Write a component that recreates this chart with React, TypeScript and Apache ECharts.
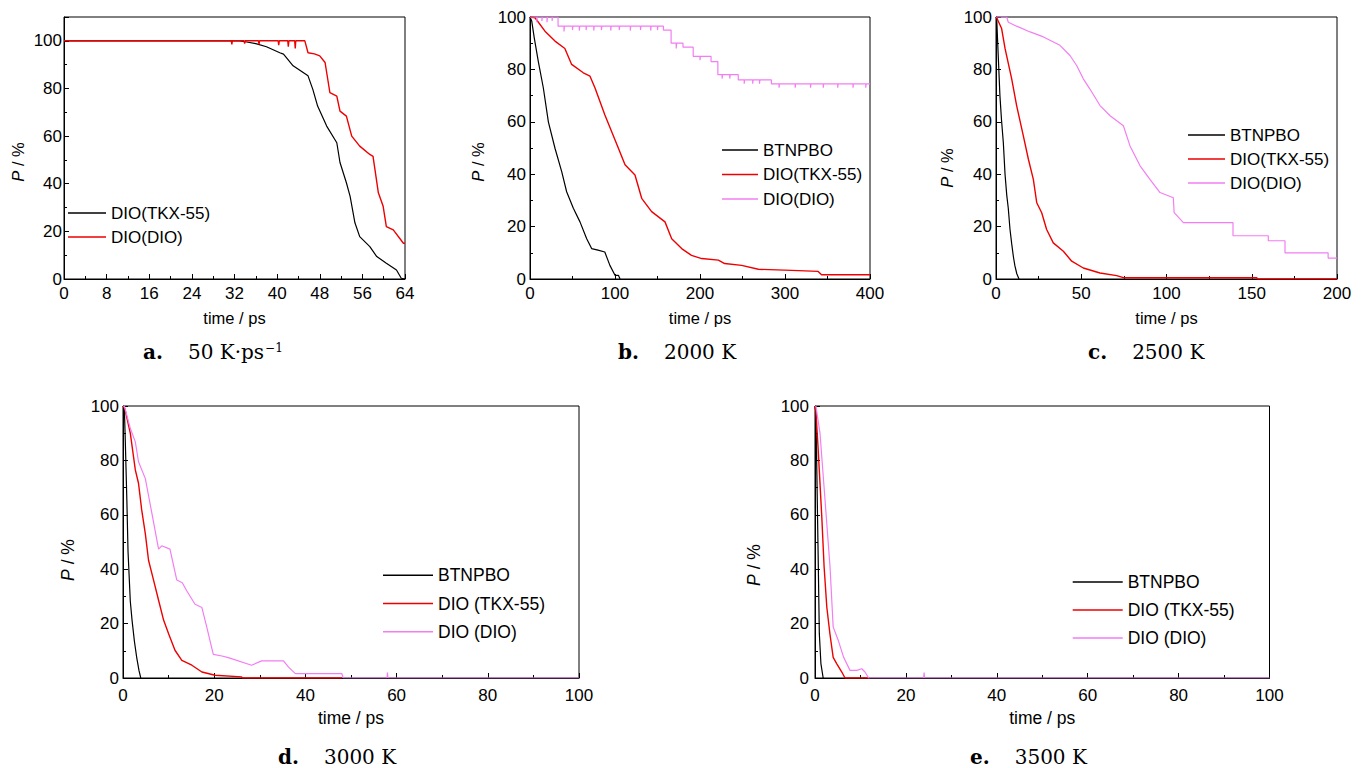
import React, { useEffect, useRef } from "react";
import * as echarts from "echarts";

type Pt = [number, number];

const BLACK = "#000000";
const RED = "#ee0000";
const PINK = "#f27ef2";

// ---------- panel a: 50 K/ps heating ----------
const aTkx: Pt[] = [
  [0, 100], [33, 100], [34.3, 99.5], [36, 98.8], [38, 97.5], [40.5, 95], [41.2, 94.4], [43, 89.5],
  [45.8, 85.3], [46.7, 79.6], [47.6, 72.6], [49.3, 64.2], [51.2, 57.2], [51.8, 48.9], [53, 40.4],
  [53.7, 34.7], [54.6, 23.6], [55.5, 17.8], [57.4, 13.6], [58.7, 9.4], [60.5, 6.6], [62.4, 3.8],
  [63.3, 0.3], [64, 0],
];
const aDio: Pt[] = [
  [0, 100], [31.4, 100], [31.5, 98.5], [31.6, 100], [33.8, 100], [33.9, 98.8], [34, 100],
  [36.5, 100], [36.6, 98.5], [36.7, 100], [40.2, 100], [40.3, 98.2], [40.4, 100], [42, 100],
  [42.1, 97.5], [42.2, 100], [43.3, 100], [43.4, 96.8], [43.5, 100], [45.2, 100], [45.8, 95],
  [47, 94.5], [48, 93.7], [49, 90.9], [49.9, 78.3], [51.2, 76.8], [51.8, 70.5], [53, 68.4],
  [54, 60], [55.5, 55.8], [57.4, 52.3], [58, 51.5], [59, 36.2], [59.9, 30.5], [60.5, 22],
  [61.8, 20.6], [63.7, 15], [64, 15],
];

// ---------- panel b: 2000 K ----------
const bBtn: Pt[] = [
  [0, 100], [2, 98.5], [5, 92], [9.8, 83], [15.7, 72.9], [21.6, 60], [29.4, 49.9], [37.3, 41],
  [43.1, 33.3], [51, 27], [58.8, 21.8], [66.7, 15.4], [72.5, 11.6], [80, 11], [88, 10.3],
  [94, 5.2], [100, 1.4], [104, 1.4], [106, 0],
];
const bTkx: Pt[] = [
  [0, 100], [5.9, 99.7], [17.6, 94.6], [29.4, 90.8], [41, 88], [49, 81.9], [62.7, 78.7],
  [70.6, 77.4], [76.5, 72.9], [88, 62.7], [96, 56.3], [104, 49.9], [111.8, 43.6], [123.5, 39.7],
  [131.4, 30.8], [143.1, 25.7], [158.8, 21.8], [166.7, 15.4], [178.4, 11.6], [190, 9], [202, 7.8],
  [221.6, 7.2], [229, 5.9], [249, 5.2], [268.6, 3.7], [307.8, 3.3], [339, 2.9], [343, 1.6],
  [400, 1.6],
];
const bDio: Pt[] = [
  [0, 100], [8, 100], [8, 98], [8.5, 100], [14, 100], [14, 98.5], [14.5, 100], [20, 100],
  [20, 98], [20.5, 100], [26, 100], [26, 98.5], [26.5, 100], [33, 100], [33, 96.5],
  [40, 96.5], [40, 94.5], [40.5, 96.5], [50, 96.5], [50, 95], [50.5, 96.5], [58, 96.5],
  [58, 94.8], [58.5, 96.5], [66, 96.5], [66, 95], [66.5, 96.5], [75, 96.5], [75, 94.8],
  [75.5, 96.5], [84, 96.5], [84, 95], [84.5, 96.5], [95, 96.5], [95, 94.8], [95.5, 96.5],
  [105, 96.5], [105, 95], [105.5, 96.5], [118, 96.5], [118, 94.8], [118.5, 96.5], [130, 96.5],
  [130, 95], [130.5, 96.5], [142, 96.5], [142, 94.8], [142.5, 96.5], [150, 96.5], [150, 95],
  [150.5, 96.5], [157, 96.5], [157, 95], [166, 95], [166, 90], [172, 90], [172, 88],
  [172.5, 90], [180, 90], [180, 88.5], [192, 88.5], [192, 85], [200, 85], [200, 83.5],
  [200.5, 85], [213, 85], [213, 83], [221, 83], [221, 78], [226, 78], [226, 76.5], [226.5, 78],
  [235, 78], [235, 76.5], [235.5, 78], [245, 78], [245, 76], [252, 76], [252, 74.5], [252.5, 76],
  [262, 76], [262, 74.5], [262.5, 76], [270, 76], [270, 74.5], [270.5, 76], [284, 76],
  [284, 74.5], [293, 74.5], [293, 73], [293.5, 74.5], [312, 74.5], [312, 73], [312.5, 74.5],
  [330, 74.5], [330, 73], [330.5, 74.5], [345, 74.5], [345, 73], [345.5, 74.5], [362, 74.5],
  [362, 73], [362.5, 74.5], [380, 74.5], [380, 73], [380.5, 74.5], [395, 74.5], [395, 73],
  [395.5, 74.5], [400, 74.5],
];

// ---------- panel c: 2500 K ----------
const cBtn: Pt[] = [
  [0, 100], [0.4, 99.7], [1, 90], [1.4, 84], [2.3, 70], [3.2, 61], [4.3, 52], [5.3, 40],
  [6.3, 32], [7.2, 27], [8.2, 19], [9.2, 13.5], [10.2, 8.5], [11.1, 5], [12.2, 2], [13.5, 0],
];
const cTkx: Pt[] = [
  [0, 100], [0.4, 99.7], [3.3, 95.6], [5.3, 88], [9.2, 76.4], [12.1, 66.2], [16, 54.7],
  [19, 45.7], [21.9, 38], [23.9, 29.1], [26.8, 25.3], [29.7, 18.9], [33.6, 13.8], [39.5, 10.6],
  [44.4, 6.8], [51.2, 4.2], [61, 2.3], [70.8, 1.3], [74.7, 0.5], [153, 0.5], [153.2, 0], [200, 0],
];
const cDio: Pt[] = [
  [0, 100], [6.3, 100], [7.2, 98], [12.1, 96.5], [20, 94.3], [27.8, 92.4], [37.5, 89.2],
  [43.4, 85.3], [47.3, 81.5], [51.2, 76.4], [55.1, 72.5], [61, 66.2], [66.9, 62.3],
  [74.7, 58.5], [78.6, 50.8], [84.5, 43.2], [90.3, 38], [96.2, 33], [104, 31], [104.5, 25.3],
  [109.9, 21.5], [139, 21.5], [139, 16.5], [159.7, 16.5], [159.7, 14.6], [169.5, 14.6],
  [169.5, 10], [194.8, 10], [194.8, 8], [200, 8],
];

// ---------- panel d: 3000 K ----------
const dBtn: Pt[] = [
  [0, 100], [0.3, 99], [0.5, 87.4], [0.85, 65], [1.1, 46.6], [1.6, 28.2], [2, 21], [2.5, 13.5],
  [3, 7.6], [3.5, 2.8], [3.9, 0],
];
const dTkx: Pt[] = [
  [0, 100], [0.4, 99], [1.6, 90], [2.7, 76.5], [3.4, 71.6], [4.1, 61.8], [4.9, 53], [5.6, 43.3],
  [6.7, 36], [7.8, 28.6], [8.9, 21.3], [10, 16.3], [11.4, 10.2], [12.9, 6.5], [15.1, 4.7],
  [17.3, 2.2], [20.2, 1], [26, 0.4], [26.2, 0], [48, 0],
];
const dDio: Pt[] = [
  [0, 100], [0.3, 100], [1.6, 91.8], [2.7, 86.8], [3.4, 79.5], [4.9, 73.3], [5.6, 67.1],
  [6.7, 57.3], [7.8, 47.4], [8.5, 48.6], [10.3, 47.4], [11.8, 36], [13, 35], [14, 32],
  [15.8, 27.1], [17.3, 25.9], [18.4, 18.5], [19.8, 8.7], [21.7, 8.1], [23.1, 7.5], [28.2, 4.7],
  [30.4, 6.3], [35.2, 6.3], [36.3, 4], [37.8, 1.6], [48, 1.6], [48.3, 0], [57.9, 0], [58, 2],
  [58.1, 0], [100, 0],
];

// ---------- panel e: 3500 K ----------
const eBtn: Pt[] = [
  [0, 100], [0.2, 97.6], [0.5, 65.6], [0.73, 41], [0.95, 16.4], [1.3, 5.3], [1.8, 0],
];
const eTkx: Pt[] = [
  [0, 100], [0.2, 98], [0.7, 84], [1.5, 59], [2, 41], [2.6, 26], [3.3, 16], [4, 7.6], [4.8, 5.2],
  [5.9, 2.2], [6.6, 0], [12, 0],
];
const eDio: Pt[] = [
  [0, 100], [0.2, 100], [1.1, 90], [2.2, 65.6], [3.3, 41], [4, 18.8], [5.1, 13.9], [6.3, 7.6],
  [7.7, 2.8], [9.2, 2.8], [10.3, 3.4], [11, 2.2], [11.8, 0], [23.9, 0], [24, 2], [24.1, 0],
  [100, 0],
];

const SANS = "'Liberation Sans', Arial, sans-serif";
const SERIF = "'DejaVu Serif', 'Liberation Serif', serif";

interface SeriesDef { name: string; color: string; width: number; data: Pt[] }
interface Panel {
  key: string;
  box: [number, number, number, number];
  grid: { left: number; top: number; width: number; height: number };
  xMax: number; xInterval: number;
  yMax: number;
  yLabelMargin: number; xLabelMargin: number; xNameGap: number;
  tickFont: number; titleFont: number; legendFont: number;
  legend: { left: number; top: number; itemWidth: number; itemGap: number };
  yTitle: { x: number; y: number };
  caption: { left: number; top: number; label: string; text: string; sup?: string };
  series: SeriesDef[];
}

const panels: Panel[] = [
  {
    key: "a", box: [0, 0, 460, 380], grid: { left: 64, top: 17, width: 341, height: 262 },
    xMax: 64, xInterval: 8, yMax: 110, yLabelMargin: 2, xLabelMargin: 6, xNameGap: 30,
    tickFont: 17, titleFont: 16.5, legendFont: 17,
    legend: { left: 68, top: 204.5, itemWidth: 38, itemGap: 7 },
    yTitle: { x: 18, y: 162 },
    caption: { left: 143, top: 342, label: "a.", text: "50 K·ps", sup: "−1" },
    series: [
      { name: "DIO(TKX-55)", color: BLACK, width: 1.2, data: aTkx },
      { name: "DIO(DIO)", color: RED, width: 1.4, data: aDio },
    ],
  },
  {
    key: "b", box: [460, 0, 455, 380], grid: { left: 70, top: 17, width: 340, height: 262 },
    xMax: 400, xInterval: 100, yMax: 100, yLabelMargin: 4, xLabelMargin: 6, xNameGap: 30,
    tickFont: 17, titleFont: 16.5, legendFont: 17,
    legend: { left: 262, top: 141.5, itemWidth: 36, itemGap: 7.5 },
    yTitle: { x: 18, y: 162 },
    caption: { left: 158, top: 342, label: "b.", text: "2000 K" },
    series: [
      { name: "BTNPBO", color: BLACK, width: 1.2, data: bBtn },
      { name: "DIO(TKX-55)", color: RED, width: 1.4, data: bTkx },
      { name: "DIO(DIO)", color: PINK, width: 1.2, data: bDio },
    ],
  },
  {
    key: "c", box: [915, 0, 453, 380], grid: { left: 81, top: 17, width: 341, height: 262 },
    xMax: 200, xInterval: 50, yMax: 100, yLabelMargin: 4, xLabelMargin: 6, xNameGap: 30,
    tickFont: 17, titleFont: 16.5, legendFont: 17,
    legend: { left: 273, top: 126.5, itemWidth: 37, itemGap: 7 },
    yTitle: { x: 32, y: 168 },
    caption: { left: 173, top: 342, label: "c.", text: "2500 K" },
    series: [
      { name: "BTNPBO", color: BLACK, width: 1.2, data: cBtn },
      { name: "DIO(TKX-55)", color: RED, width: 1.4, data: cTkx },
      { name: "DIO(DIO)", color: PINK, width: 1.2, data: cDio },
    ],
  },
  {
    key: "d", box: [0, 390, 684, 378], grid: { left: 123, top: 16, width: 456, height: 272 },
    xMax: 100, xInterval: 20, yMax: 100, yLabelMargin: 4, xLabelMargin: 9, xNameGap: 31,
    tickFont: 17, titleFont: 17.5, legendFont: 17.5,
    legend: { left: 383, top: 176.2, itemWidth: 50, itemGap: 10.3 },
    yTitle: { x: 68, y: 170 },
    caption: { left: 278, top: 357, label: "d.", text: "3000 K" },
    series: [
      { name: "BTNPBO", color: BLACK, width: 1.2, data: dBtn },
      { name: "DIO (TKX-55)", color: RED, width: 1.4, data: dTkx },
      { name: "DIO (DIO)", color: PINK, width: 1.2, data: dDio },
    ],
  },
  {
    key: "e", box: [684, 390, 684, 378], grid: { left: 131, top: 16, width: 454.5, height: 272 },
    xMax: 100, xInterval: 20, yMax: 100, yLabelMargin: 6, xLabelMargin: 9, xNameGap: 31,
    tickFont: 17, titleFont: 17.5, legendFont: 17.5,
    legend: { left: 388.7, top: 183, itemWidth: 50, itemGap: 10 },
    yTitle: { x: 70, y: 175 },
    caption: { left: 286, top: 357, label: "e.", text: "3500 K" },
    series: [
      { name: "BTNPBO", color: BLACK, width: 1.2, data: eBtn },
      { name: "DIO (TKX-55)", color: RED, width: 1.4, data: eTkx },
      { name: "DIO (DIO)", color: PINK, width: 1.2, data: eDio },
    ],
  },
];

function buildOption(p: Panel): any {
  const axisCommon = {
    axisLine: { show: true, onZero: false, lineStyle: { color: "#000", width: 1 } },
    axisTick: { show: true, inside: true, length: 5, lineStyle: { color: "#000", width: 1 } },
    minorTick: { show: true, splitNumber: 2, length: 3, lineStyle: { color: "#000", width: 1 } },
    splitLine: { show: false },
    minorSplitLine: { show: false },
  };
  const capRich: any = {
    b: { fontFamily: SERIF, fontSize: 20, fontWeight: "bold", color: "#000", padding: [0, 25, 0, 0] },
    n: { fontFamily: SERIF, fontSize: 20, fontWeight: "normal", color: "#000" },
    s: { fontFamily: SERIF, fontSize: 12, fontWeight: "normal", color: "#000", verticalAlign: "top", padding: [0, 0, 0, 1] },
  };
  const capText = `{b|${p.caption.label}}{n|${p.caption.text}}` + (p.caption.sup ? `{s|${p.caption.sup}}` : "");
  return {
    animation: false,
    backgroundColor: "#ffffff",
    title: {
      text: capText,
      left: p.caption.left,
      top: p.caption.top,
      padding: 0,
      textStyle: { fontWeight: "normal", fontFamily: SERIF, fontSize: 20, color: "#000", rich: capRich },
    },
    legend: {
      orient: "vertical",
      left: p.legend.left,
      top: p.legend.top,
      padding: 0,
      icon: "rect",
      itemWidth: p.legend.itemWidth,
      itemHeight: 1.5,
      itemGap: p.legend.itemGap,
      selectedMode: false,
      textStyle: { fontFamily: SANS, fontSize: p.legendFont, color: "#000" },
      data: p.series.map((s) => s.name),
    },
    grid: {
      left: p.grid.left, top: p.grid.top, width: p.grid.width, height: p.grid.height,
      show: true, borderColor: "#000", borderWidth: 1, backgroundColor: "transparent",
    },
    xAxis: {
      type: "value", min: 0, max: p.xMax, interval: p.xInterval,
      name: "time / ps", nameLocation: "middle", nameGap: p.xNameGap,
      nameTextStyle: { fontFamily: SANS, fontSize: p.titleFont, color: "#000" },
      axisLabel: { fontFamily: SANS, fontSize: p.tickFont, color: "#000", margin: p.xLabelMargin },
      ...axisCommon,
    },
    yAxis: {
      type: "value", min: 0, max: p.yMax, interval: 20,
      axisLabel: {
        fontFamily: SANS, fontSize: p.tickFont, color: "#000", margin: p.yLabelMargin,
        formatter: (v: number) => (v > 100 ? "" : String(v)),
      },
      ...axisCommon,
    },
    graphic: [
      {
        type: "text",
        x: p.yTitle.x,
        y: p.yTitle.y,
        rotation: Math.PI / 2,
        style: {
          text: "{i|P} / %",
          fill: "#000",
          fontFamily: SANS,
          fontSize: p.titleFont,
          align: "center",
          verticalAlign: "middle",
          rich: {
            i: { fontFamily: SANS, fontSize: p.titleFont, fontStyle: "italic", fill: "#000" },
          },
        },
      },
    ],
    series: p.series.map((s) => ({
      name: s.name,
      type: "line",
      data: s.data,
      showSymbol: false,
      symbol: "none",
      clip: true,
      color: s.color,
      lineStyle: { color: s.color, width: s.width },
      emphasis: { disabled: true },
    })),
  };
}

function ChartPanel({ panel }: { panel: Panel }) {
  const ref = useRef<HTMLDivElement>(null);
  useEffect(() => {
    if (!ref.current) return;
    const chart = echarts.init(ref.current, null, { renderer: "svg" });
    chart.setOption(buildOption(panel));
    return () => chart.dispose();
  }, [panel]);
  const [l, t, w, h] = panel.box;
  return <div ref={ref} style={{ position: "absolute", left: l, top: t, width: w, height: h }} />;
}

export default function App() {
  return (
    <div style={{ position: "absolute", left: 0, top: 0, width: 1368, height: 768, background: "#ffffff", overflow: "hidden" }}>
      {panels.map((p) => (
        <ChartPanel key={p.key} panel={p} />
      ))}
    </div>
  );
}
